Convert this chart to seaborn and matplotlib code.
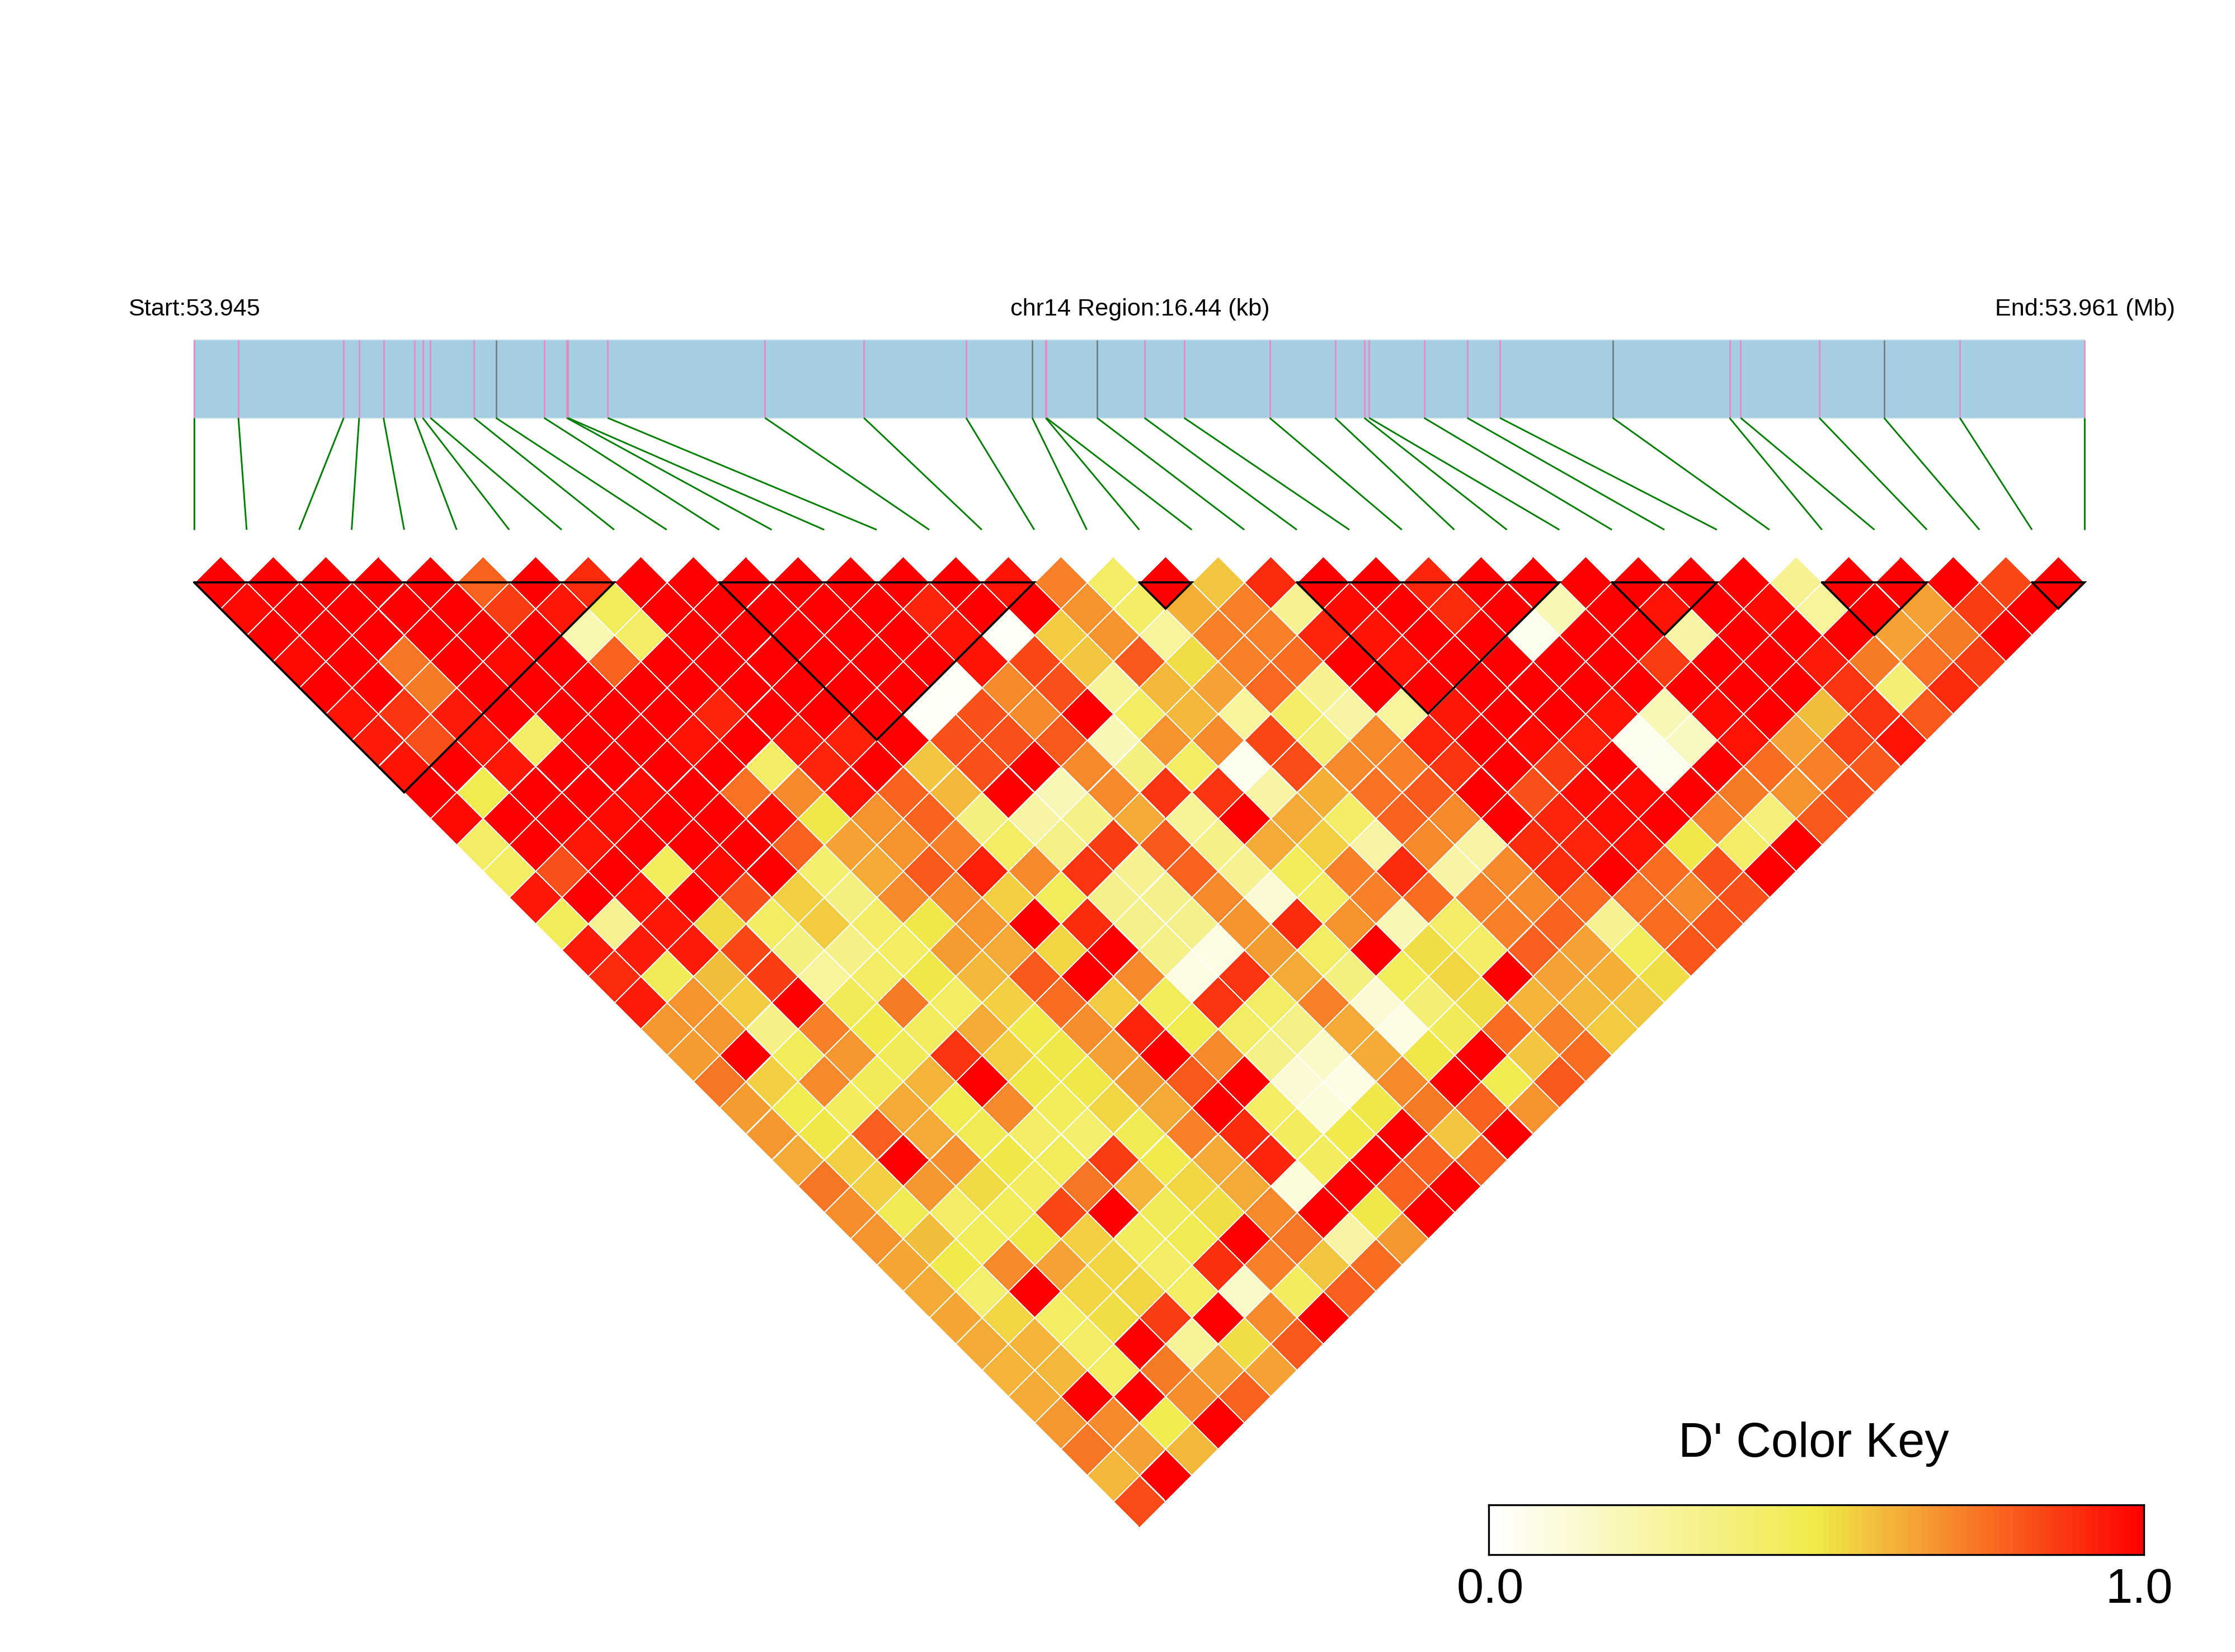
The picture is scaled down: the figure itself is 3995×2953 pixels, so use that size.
import numpy as np
import matplotlib
matplotlib.use("Agg")
import matplotlib.pyplot as plt
from matplotlib.colors import LinearSegmentedColormap
from matplotlib.patches import Rectangle
from matplotlib.transforms import Affine2D
import seaborn as sns

# SNP positions along the region (kb from start)
snp_kb = [0, .385, 1.301, 1.435, 1.647, 1.916, 1.988, 2.055, 2.435, 2.625, 3.044, 3.240, 3.251,
          3.597, 4.965, 5.825, 6.714, 7.289, 7.406, 7.412, 7.853, 8.265, 8.610, 9.354, 9.923,
          10.177, 10.219, 10.697, 11.072, 11.356, 12.337, 13.353, 13.450, 14.134, 14.697, 15.356, 16.44]
grey_snps = [9, 17, 20, 30, 34]
blocks = [(0, 8), (10, 16), (18, 19), (21, 26), (27, 29), (31, 33), (35, 36)]
region_kb = 16.44

# D' values, one list per distance between SNPs
row_00 = [1,1,1,1,1,.78,1,.9,1,1,1,1,1,1,1,.95,.72,.42,.99,.58,.9,1,1,.91,1,1,1,1,1,1,.3,1,1,1,.84,1]
row_01 = [.97,1,1,1,1,.86,.94,.45,1,1,1,1,1,.91,1,1,.68,.42,.62,.72,.3,.97,1,.9,1,.2,1,.95,1,.97,.27,1,.65,.86,1]
row_02 = [1,1,1,1,1,1,.22,.42,1,1,1,1,1,.95,.03,.56,.68,.27,.72,.72,.91,.95,1,1,.05,1,1,.25,1,1,1,.65,.73,1]
row_03 = [.97,1,.74,1,.97,1,.78,1,1,1,1,1,1,.95,.84,.58,.8,.52,.72,.76,1,.95,1,1,1,1,.86,1,.99,.93,.73,.75,.86]
row_04 = [1,1,.73,1,1,1,1,1,1,1,1,1,.03,.7,.82,.28,.6,.65,.77,.3,1,1,1,1,1,1,.99,.99,1,.88,.38,.9]
row_05 = [.95,.88,.93,1,1,1,1,.91,1,1,1,.03,.82,.7,1,.43,.6,.27,.42,.25,.27,.94,1,.99,.95,.2,.97,1,.59,.88,.8]
row_06 = [.93,.82,.95,.42,1,1,.95,1,.94,.92,1,.82,.82,.8,.2,.68,.7,.84,.38,.7,.91,1,.97,.92,.05,.17,.95,.65,.85,.95]
row_07 = [.95,1,.94,1,1,1,1,.42,.91,1,.58,.82,1,.7,.35,.43,.05,.83,.7,.72,.88,.99,.86,1,.05,1,.76,.72,.8]
row_08 = [1,.48,1,1,.97,1,.75,.7,.95,.78,.6,1,.2,.7,.88,.88,.25,.62,.75,.8,1,.82,.97,.97,1,.73,.68,.82]
row_09 = [.97,1,1,.97,1,1,.97,.5,.68,.78,.35,.25,.33,.63,.28,1,.63,.42,.78,.7,1,.91,.97,1,.72,.37,.8]
row_10 = [.42,1,.94,1,1,1,.78,.65,.68,.72,.43,.33,.86,.8,.33,.63,.55,.25,.7,.25,.9,.91,.95,.5,.42,1]
row_11 = [.43,.82,1,.45,.97,1,.4,.63,.8,.92,.7,.88,.3,.78,.3,.45,.72,.9,.25,.7,.9,1,.76,.82,1]
row_12 = [.94,1,.95,1,.82,.55,.35,.7,.7,.55,.45,.32,.32,.7,.12,.43,.72,.76,.71,.7,.76,.75,.7,.82]
row_13 = [.45,.3,.94,.53,.43,.57,.42,.5,.68,1,.9,.32,.32,.68,.9,.68,.2,.42,.72,.78,.3,.76,.81]
row_14 = [.93,.93,.93,.84,.35,.33,.43,.66,.63,.54,1,.33,.08,.66,.43,1,.52,.42,.79,.65,.45,.81]
row_15 = [.9,.46,.59,.86,.27,.42,.5,.6,.8,1,.7,.08,.88,.63,.35,.45,.54,1,.65,.62,.52]
row_16 = [.93,.68,.57,1,.46,.73,.43,.55,.76,.56,.45,.88,.42,.72,.12,.38,.52,.61,.6,.58]
row_17 = [.67,.67,.33,.72,.49,.44,.63,.49,.69,.91,.48,.42,.33,.63,.07,.46,.76,.72,.57]
row_18 = [.66,1,.45,.67,.46,.88,.55,.5,.65,1,.7,.33,.15,.63,.5,1,.58,.76]
row_19 = [.74,.55,.7,.46,.61,1,.5,.5,.66,.8,1,.12,.07,.7,1,.48,.8]
row_20 = [.66,.48,.44,.63,.48,.7,.45,.54,.63,1,.43,.1,.5,.73,.78,.68]
row_21 = [.67,.5,.79,.63,.47,.42,.4,.47,.72,.9,.44,.49,1,.58,1]
row_22 = [.63,.55,1,.69,.5,.45,.86,.49,.63,.91,.44,1,.78,.78]
row_23 = [.74,.55,.67,.53,.44,.74,.61,.54,.63,.1,1,.78,1]
row_24 = [.69,.47,.42,.45,.84,1,.46,.52,.7,1,.5,1]
row_25 = [.68,.59,.45,.5,.55,.44,.47,1,.74,.25,.67]
row_26 = [.64,.49,.7,.65,.54,.42,.89,.72,.58,.76]
row_27 = [.63,.4,1,.54,.54,.43,.15,.44,.79]
row_28 = [.64,.54,.43,.52,.86,1,.7,1]
row_29 = [.63,.61,.42,1,.28,.52,.8]
row_30 = [.61,.6,.43,.73,.65,.65]
row_31 = [.63,1,1,.69,.78]
row_32 = [.67,.7,.48,1]
row_33 = [.74,.65,.6]
row_34 = [.6,1]
row_35 = [.83]
rows = [row_00,row_01,row_02,row_03,row_04,row_05,row_06,row_07,row_08,row_09,row_10,row_11,
        row_12,row_13,row_14,row_15,row_16,row_17,row_18,row_19,row_20,row_21,row_22,row_23,
        row_24,row_25,row_26,row_27,row_28,row_29,row_30,row_31,row_32,row_33,row_34,row_35]

W, H = 3995, 2953
n = len(snp_kb) - 1
matrix = np.full((n, n), np.nan)
for k, r in enumerate(rows):
    assert len(r) == n - k, (k, len(r))
    for m, v in enumerate(r):
        matrix[m, m + k] = v

sns.set_theme(style="white")
plt.rcParams["font.family"] = ["Liberation Sans", "DejaVu Sans"]
cmap = LinearSegmentedColormap.from_list("ld", ["#FFFFFF", "#F0EA4A", "#FF0000"], N=100)

fig = plt.figure(figsize=(W / 300, H / 300), dpi=300, facecolor="white")
ax = fig.add_axes([0, 0, 1, 1])
x0, x1 = 347.0, 3726.0
ytop = 1041.0
dx = (x1 - x0) / n

sns.heatmap(matrix, ax=ax, cmap=cmap, vmin=0, vmax=1, cbar=False, mask=np.isnan(matrix),
            linewidths=0.32, linecolor="white", xticklabels=False, yticklabels=False)
ax.set_xlim(0, W)
ax.set_ylim(H, 0)
ax.set_axis_off()
mesh = ax.collections[0]
mesh.set_transform(Affine2D(np.array([[dx / 2, dx / 2, x0],
                                      [dx / 2, -dx / 2, ytop],
                                      [0, 0, 1]])) + ax.transData)

# gene bar
bar_top, bar_bot = 608, 747
ax.add_patch(Rectangle((x0, bar_top), x1 - x0, bar_bot - bar_top, fc="#A6CEE3", ec="#BBD9EA", lw=0.5))
xs = [x0 + p / region_kb * (x1 - x0) for p in snp_kb]
for i, x in enumerate(xs):
    ax.vlines(x, bar_top, bar_bot, color="#6F7F7F" if i in grey_snps else "#E78AC3", lw=0.65)
    ax.plot([x, x0 + i * dx], [bar_bot, 947], color="#008000", lw=0.7, solid_capstyle="butt")

# LD blocks
for s, e in blocks:
    ax.plot([x0 + s * dx, x0 + e * dx, x0 + (s + e) / 2 * dx, x0 + s * dx],
            [ytop, ytop, ytop + (e - s) * dx / 2, ytop],
            color="black", lw=0.9, solid_joinstyle="miter", zorder=5)

# labels
small = 10.4
ax.text(229, 564, "Start:53.945", fontsize=small, ha="left", va="baseline", color="black")
ax.text(2038, 564, "chr14 Region:16.44 (kb)", fontsize=small, ha="center", va="baseline", color="black")
ax.text(3888, 564, "End:53.961 (Mb)", fontsize=small, ha="right", va="baseline", color="black")
big = 20.8
ax.text(3242, 2604, "D' Color Key", fontsize=big, ha="center", va="baseline", color="black")
ax.text(2664, 2865, "0.0", fontsize=big, ha="center", va="baseline", color="black")
ax.text(3824, 2865, "1.0", fontsize=big, ha="center", va="baseline", color="black")

# colour key
key_l, key_r, key_t, key_b = 2661, 3832, 2690, 2779
cax = fig.add_axes([key_l / W, 1 - key_b / H, (key_r - key_l) / W, (key_b - key_t) / H])
sns.heatmap(np.linspace(0, 1, 100)[None, :], ax=cax, cmap=cmap, vmin=0, vmax=1, cbar=False,
            xticklabels=False, yticklabels=False)
for sp in cax.spines.values():
    sp.set_visible(True)
    sp.set_color("black")
    sp.set_linewidth(0.8)

fig.savefig("out.png", dpi=300, facecolor="white")
